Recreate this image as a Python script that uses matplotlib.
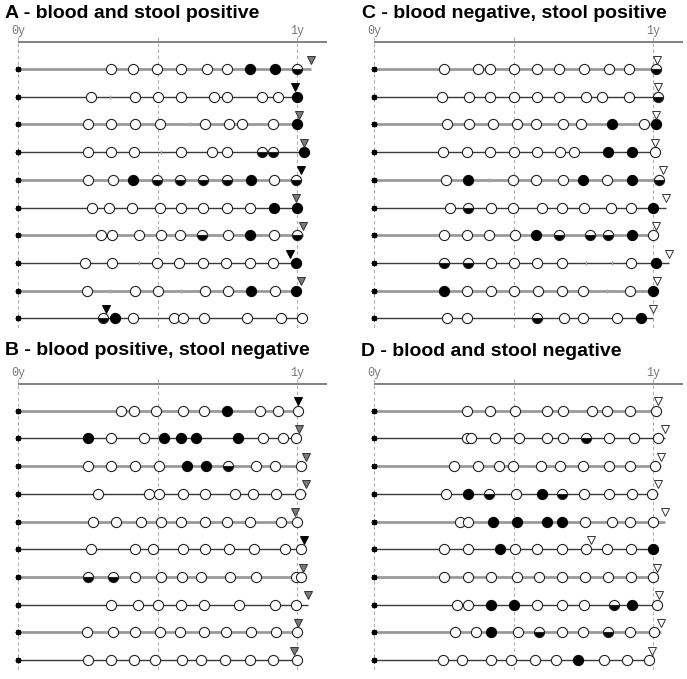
import matplotlib
matplotlib.use("Agg")
import matplotlib.pyplot as plt

# kinds: o = negative (open), f = positive (filled), h = half (bottom filled), t = missed sample tick
A_times = [
    [0.332, 0.412, 0.499, 0.582, 0.677, 0.749, 0.832, 0.919, 0.999],
    [0.263, 0.328, 0.418, 0.501, 0.582, 0.702, 0.749, 0.874, 0.931, 1.0],
    [0.251, 0.332, 0.418, 0.507, 0.617, 0.671, 0.754, 0.803, 0.911, 1.0],
    [0.251, 0.332, 0.415, 0.513, 0.585, 0.695, 0.749, 0.874, 0.913, 1.023],
    [0.251, 0.340, 0.412, 0.498, 0.579, 0.662, 0.748, 0.833, 0.916, 0.996],
    [0.265, 0.325, 0.409, 0.510, 0.582, 0.662, 0.748, 0.832, 0.915, 1.0],
    [0.296, 0.337, 0.432, 0.511, 0.579, 0.660, 0.752, 0.829, 0.916, 1.0],
    [0.239, 0.337, 0.433, 0.498, 0.575, 0.662, 0.746, 0.832, 0.913, 0.996],
    [0.247, 0.328, 0.418, 0.501, 0.585, 0.671, 0.752, 0.833, 0.919, 0.996],
    [0.304, 0.346, 0.412, 0.557, 0.591, 0.665, 0.821, 0.940, 1.017],
]
A_kinds = ["ooooooffh", "otooooooof", "ooootoooof", "oootooohhf", "oofhhhhfoh",
           "ooooooooff", "ooooohofoh", "ootoooooof", "otootoofof", "hfooooooo"]
A_tri = [1.047, 0.990, 1.006, 1.023, 1.014, 0.996, 1.020, 0.973, 1.012, 0.316]
A_tri_col = ["g", "k", "g", "g", "k", "g", "g", "k", "g", "k"]

B_times = [
    [0.370, 0.414, 0.493, 0.591, 0.665, 0.748, 0.865, 0.931, 1.002],
    [0.251, 0.332, 0.451, 0.523, 0.585, 0.638, 0.788, 0.877, 0.949, 0.996],
    [0.251, 0.332, 0.418, 0.505, 0.606, 0.674, 0.752, 0.853, 0.921, 1.012],
    [0.286, 0.468, 0.505, 0.591, 0.668, 0.776, 0.841, 0.925, 1.008],
    [0.268, 0.352, 0.439, 0.511, 0.582, 0.671, 0.749, 0.829, 0.943, 1.000],
    [0.263, 0.418, 0.483, 0.591, 0.668, 0.754, 0.845, 0.955, 1.014],
    [0.251, 0.340, 0.418, 0.511, 0.588, 0.654, 0.758, 0.853, 0.996, 1.012],
    [0.334, 0.430, 0.501, 0.585, 0.666, 0.790, 0.919, 0.996],
    [0.248, 0.340, 0.418, 0.507, 0.579, 0.665, 0.746, 0.835, 0.922, 1.000],
    [0.251, 0.332, 0.415, 0.489, 0.588, 0.656, 0.742, 0.829, 0.913, 1.000],
]
B_kinds = ["ooooofooo", "fooffffooo", "ooooffhooo", "ooooooooo", "oooooooooo",
           "ooooooooo", "hhoooooooo", "oooooooo", "oooooooooo", "oooooooooo"]
B_tri = [1.002, 1.006, 1.032, 1.032, 0.990, 1.023, 1.020, 1.038, 1.002, 0.988]
B_tri_col = ["k", "g", "g", "g", "g", "k", "g", "g", "g", "g"]

C_times = [
    [0.250, 0.370, 0.415, 0.502, 0.584, 0.663, 0.751, 0.841, 0.914, 1.010],
    [0.244, 0.339, 0.415, 0.501, 0.584, 0.663, 0.757, 0.815, 0.914, 1.016],
    [0.259, 0.340, 0.427, 0.513, 0.578, 0.677, 0.741, 0.851, 0.968, 1.008],
    [0.247, 0.331, 0.415, 0.502, 0.582, 0.665, 0.716, 0.836, 0.922, 1.006],
    [0.257, 0.335, 0.412, 0.498, 0.579, 0.675, 0.747, 0.833, 0.925, 1.020],
    [0.271, 0.337, 0.417, 0.498, 0.602, 0.674, 0.751, 0.847, 0.919, 1.000],
    [0.251, 0.331, 0.412, 0.504, 0.578, 0.663, 0.773, 0.839, 0.925, 1.000],
    [0.250, 0.335, 0.417, 0.501, 0.582, 0.671, 0.757, 0.851, 0.919, 1.008],
    [0.251, 0.333, 0.417, 0.502, 0.588, 0.671, 0.747, 0.833, 0.916, 1.000],
    [0.262, 0.333, 0.584, 0.680, 0.747, 0.871, 0.955],
]
C_kinds = ["oooooooooh", "oooooooooh", "ooooooofof", "oooooooffo", "oftooofofh",
           "ohooooooof", "oooofhhhfo", "hhoooottof", "fooooootof", "oohooof"]
C_tri = [1.012, 1.016, 1.008, 1.006, 1.036, 1.044, 1.008, 1.056, 1.012, 1.000]
C_tri_col = ["w"] * 10

D_times = [
    [0.331, 0.415, 0.504, 0.618, 0.677, 0.779, 0.835, 0.916, 1.008],
    [0.331, 0.346, 0.432, 0.519, 0.618, 0.677, 0.757, 0.842, 0.932, 1.016],
    [0.287, 0.370, 0.447, 0.498, 0.596, 0.665, 0.749, 0.842, 0.916, 1.006],
    [0.256, 0.337, 0.412, 0.507, 0.602, 0.671, 0.751, 0.842, 0.922, 0.996],
    [0.307, 0.337, 0.424, 0.510, 0.618, 0.674, 0.755, 0.851, 0.916, 1.000],
    [0.251, 0.337, 0.450, 0.504, 0.582, 0.671, 0.757, 0.833, 0.920, 1.000],
    [0.251, 0.335, 0.417, 0.510, 0.590, 0.671, 0.755, 0.839, 0.920, 1.000],
    [0.295, 0.335, 0.417, 0.501, 0.584, 0.671, 0.751, 0.860, 0.922, 1.012],
    [0.289, 0.364, 0.417, 0.516, 0.590, 0.671, 0.747, 0.836, 0.916, 1.002],
    [0.245, 0.315, 0.417, 0.489, 0.576, 0.651, 0.731, 0.824, 0.904, 0.986],
]
D_kinds = ["ooooooooo", "oooooohooo", "oooooooooo", "ofhofhoooo", "ooffffoooo",
           "oofoooooof", "oooooooooo", "ooffooohfo", "oofohoohoo", "oooooofooo"]
D_tri = [1.016, 1.042, 1.027, 1.016, 1.042, 0.775, 1.014, 1.020, 1.027, 0.996]
D_tri_col = ["w"] * 10

titles = ["A - blood and stool positive", "B - blood positive, stool negative",
          "C - blood negative, stool positive", "D - blood and stool negative"]

W, H = 687, 679
fig = plt.figure(figsize=(W / 100, H / 100), dpi=100)

tri_colors = {"k": "black", "g": "#7a7a7a", "w": "white"}


def draw_panel(box, xlim, ylim, times, kinds, tri, tri_col):
    x0, y0, x1, y1 = box
    ax = fig.add_axes([x0 / W, 1 - y1 / H, (x1 - x0) / W, (y1 - y0) / H])
    ax.set_xlim(*xlim)
    ax.set_ylim(*ylim)
    ax.axis("off")

    # time axis
    ax.plot([0, 1.106], [-0.98, -0.98], color="#777777", lw=1.3, solid_capstyle="butt")
    for t in [0, 0.5, 1]:
        ax.plot([t, t], [-1.15, ylim[0]], color="#b0b0b0", lw=0.8, ls=(0, (3, 2.5)), zorder=0)
    ax.text(0, -1.27, "0y", family="Liberation Mono", size=8.5, color="#777777",
            ha="center", va="baseline")
    ax.text(1, -1.27, "1y", family="Liberation Mono", size=8.5, color="#777777",
            ha="center", va="baseline")

    for i, (ts, ks) in enumerate(zip(times, kinds)):
        end = max(ts[-1], tri[i])
        if i % 2 == 0:
            ax.plot([0, end], [i, i], color="#9a9a9a", lw=2.0, zorder=1, solid_capstyle="butt")
        else:
            ax.plot([0, end], [i, i], color="#3a3a3a", lw=1.0, zorder=1, solid_capstyle="butt")
        ax.plot(0, i, marker=(8, 2, 0), ms=4, color="black", mew=1.0, zorder=3)
        for t, k in zip(ts, ks):
            if k == "t":
                ax.plot(t, i, marker="|", ms=2.5, color="#aaaaaa", mew=1.0, zorder=2)
            elif k == "o":
                ax.plot(t, i, "o", ms=7.3, mfc="white", mec="#222222", mew=0.8, zorder=3)
            elif k == "f":
                ax.plot(t, i, "o", ms=7.3, mfc="black", mec="black", mew=0.8, zorder=3)
            else:
                ax.plot(t, i, "o", ms=7.3, fillstyle="bottom", mfc="black",
                        markerfacecoloralt="white", mec="#222222", mew=0.8, zorder=3)
        ax.plot(tri[i], i - 0.34, "v", ms=5.5, mfc=tri_colors[tri_col[i]],
                mec="#333333" if tri_col[i] != "k" else "black", mew=0.7, zorder=4)
    return ax


left_xlim = ((8 - 18) / 279.4, (335 - 18) / 279.4)
right_xlim = ((364 - 374.3) / 279, (687 - 374.3) / 279)
top_ylim = (9.42, -1.70)
bot_ylim = (9.43, -1.76)

draw_panel((8, 22, 335, 330), left_xlim, top_ylim, A_times, A_kinds, A_tri, A_tri_col)
draw_panel((8, 362, 335, 672), left_xlim, bot_ylim, B_times, B_kinds, B_tri, B_tri_col)
draw_panel((364, 22, 687, 330), right_xlim, top_ylim, C_times, C_kinds, C_tri, C_tri_col)
draw_panel((364, 362, 687, 672), right_xlim, bot_ylim, D_times, D_kinds, D_tri, D_tri_col)

title_pos = [(5, 18), (5, 355), (362, 18), (361, 356)]
for (tx, ty), title in zip(title_pos, titles):
    fig.text(tx / W, 1 - ty / H, title, family="Liberation Sans", weight="bold",
             size=14, ha="left", va="baseline")

fig.savefig("out.png", dpi=100)
